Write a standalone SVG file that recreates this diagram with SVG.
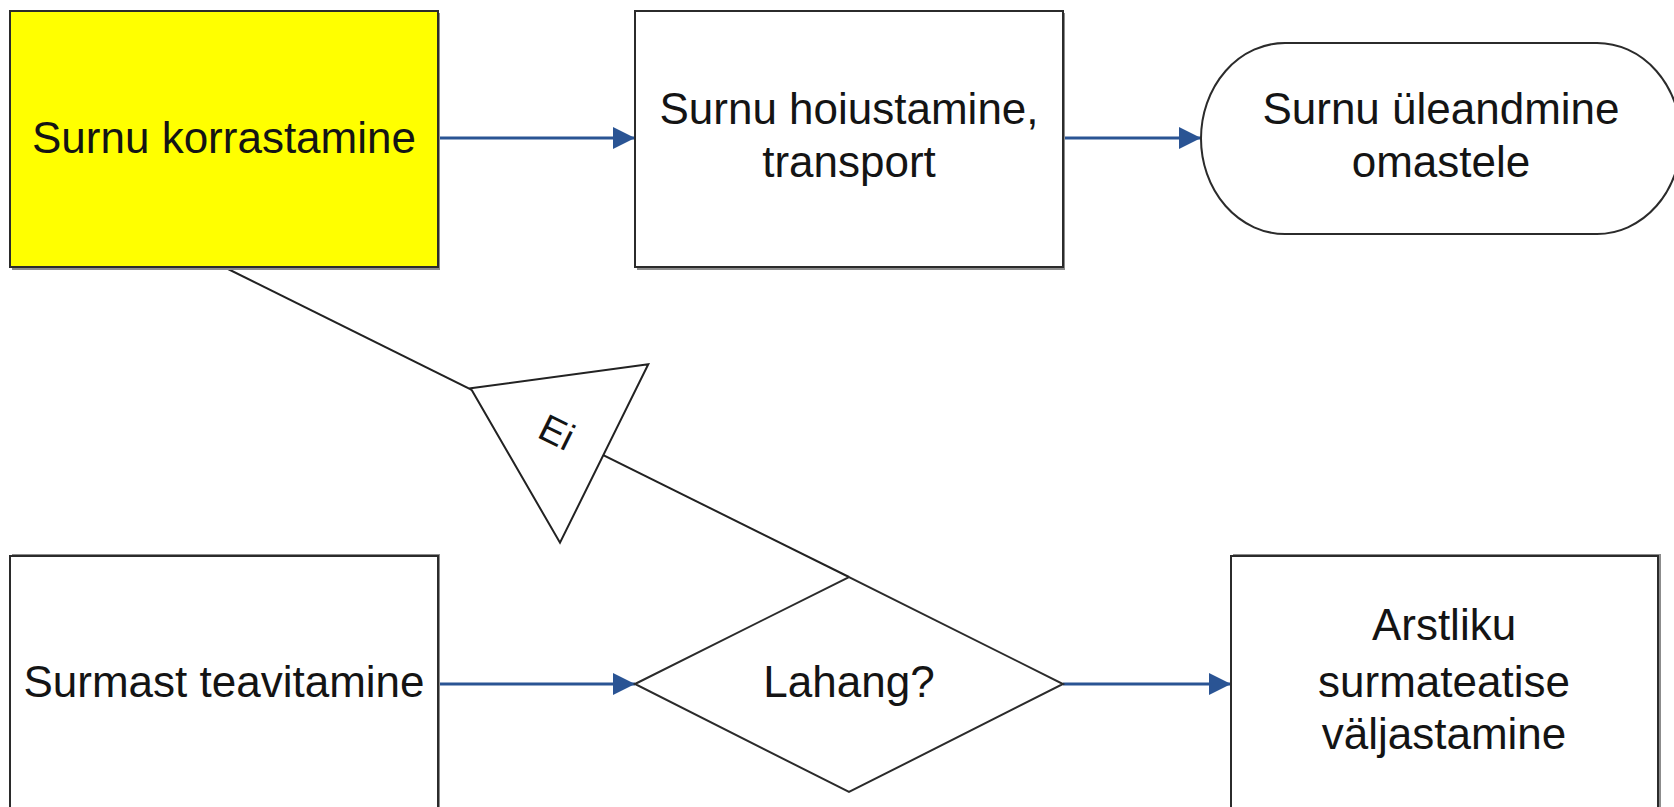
<svg xmlns="http://www.w3.org/2000/svg" width="1674" height="807" viewBox="0 0 1674 807">
<style>
.box{stroke:#2b2b2b;stroke-width:2}
.sh{fill:#8c8c8c}
.t{font-family:"Liberation Sans",Arial,sans-serif;font-size:44px;fill:#141414;text-anchor:middle}
.flow{fill:none;stroke:#2a5494;stroke-width:3}
.link{fill:none;stroke:#222;stroke-width:2}
.tri{fill:#fff;stroke:#222;stroke-width:2}
</style>
<defs>
<marker id="ah" markerUnits="userSpaceOnUse" markerWidth="24" markerHeight="24" viewBox="0 0 24 24" refX="23" refY="12" orient="auto">
<path d="M1,1 L23,12 L1,23 Z" fill="#2a5494"/>
</marker>
</defs>
<rect width="1674" height="807" fill="#fff"/>
<g id="connectors">
<line class="link" x1="224" y1="267" x2="849" y2="577"/>
<line class="flow" x1="438" y1="138" x2="635" y2="138" marker-end="url(#ah)"/>
<line class="flow" x1="1063" y1="138" x2="1201" y2="138" marker-end="url(#ah)"/>
<line class="flow" x1="438" y1="684" x2="635" y2="684" marker-end="url(#ah)"/>
<line class="flow" x1="1063" y1="684" x2="1231" y2="684" marker-end="url(#ah)"/>
</g>
<g id="n-korrastamine">
<rect class="sh" x="12" y="13" width="428" height="257"/>
<rect class="box" x="10" y="11" width="428" height="256" fill="#ffff00"/>
<text class="t" x="224" y="153">Surnu korrastamine</text>
</g>
<g id="n-hoiustamine">
<rect class="sh" x="637" y="13" width="428" height="257"/>
<rect class="box" x="635" y="11" width="428" height="256" fill="#fff"/>
<text class="t" x="849" y="124">Surnu hoiustamine,</text>
<text class="t" x="849" y="177">transport</text>
</g>
<g id="n-yleandmine">
<rect class="box" x="1201" y="43" width="480" height="191" rx="84" ry="95.5" fill="#fff"/>
<text class="t" x="1441" y="124">Surnu üleandmine</text>
<text class="t" x="1441" y="177">omastele</text>
</g>
<g id="n-ei">
<polygon class="tri" points="470.7,388.3 648.3,364.3 560,542.7"/>
<text class="t" x="0" y="0" transform="translate(551,444) rotate(26.3)" style="font-size:38px">Ei</text>
</g>
<g id="n-teavitamine">
<rect class="sh" x="12" y="554" width="428" height="260"/>
<rect class="box" x="10" y="556" width="428" height="256" fill="#fff"/>
<text class="t" x="224" y="697">Surmast teavitamine</text>
</g>
<g id="n-lahang">
<polygon class="box" points="635,684 849,577 1063,684 849,792" fill="#fff"/>
<text class="t" x="849" y="697">Lahang?</text>
</g>
<g id="n-arstliku">
<rect class="sh" x="1233" y="554" width="428" height="260"/>
<rect class="box" x="1231" y="556" width="427" height="256" fill="#fff"/>
<text class="t" x="1444" y="640">Arstliku</text>
<text class="t" x="1444" y="697">surmateatise</text>
<text class="t" x="1444" y="749">väljastamine</text>
</g>
</svg>
